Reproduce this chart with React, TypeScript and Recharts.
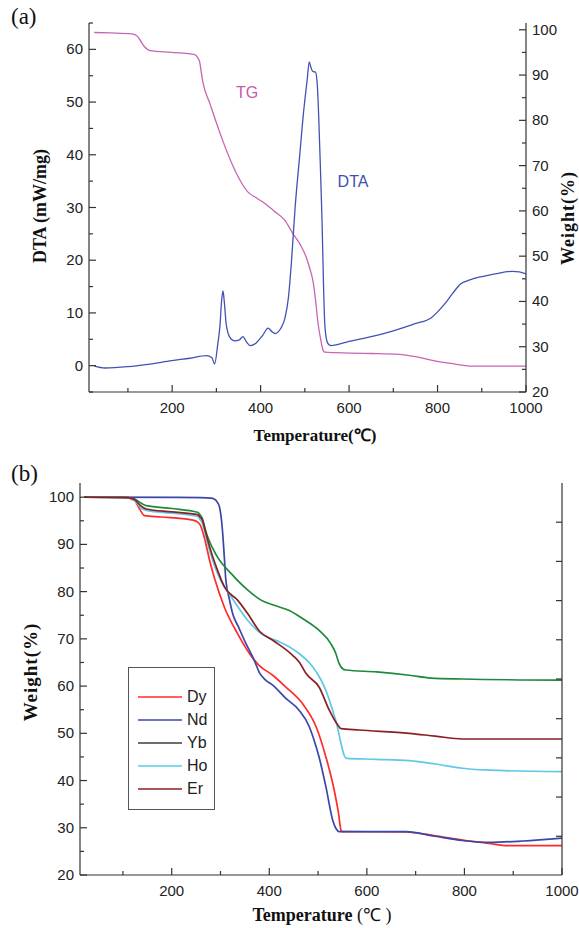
import React from 'react';
import { LineChart, Line, XAxis, YAxis, Legend } from 'recharts';

// ---- panel (a): DTA / TG ----
const dtaTemp = [24, 48, 100, 150, 199, 240, 278, 290, 296, 303, 308, 312, 315, 318, 322, 327, 334, 341, 352, 360, 368, 377, 390, 405, 417, 425, 433, 445, 455, 463, 470, 478, 488, 497, 505, 510, 514, 518, 524, 528, 531, 535, 539, 542, 545, 549, 553, 559, 600, 650, 700, 736, 751, 786, 800, 819, 835, 852, 875, 901, 930, 969, 985, 1000];
const dtaValue = [-0.1, -0.45, -0.2, 0.3, 0.95, 1.4, 1.9, 1.5, 0.3, 4, 7.5, 12.5, 14.2, 12, 8, 6, 5, 4.7, 4.9, 5.5, 4.5, 3.8, 4.3, 5.8, 7.1, 6.5, 6.1, 7, 9, 13, 20, 30, 39.5, 48, 54, 57.6, 56.5, 55.8, 55.7, 53.5, 48, 38, 27, 16, 8, 5, 4.1, 3.8, 4.6, 5.5, 6.6, 7.6, 8, 9.1, 10.2, 12, 13.8, 15.5, 16.3, 16.9, 17.4, 17.9, 17.8, 17.4];

const tgTemp = [24, 60, 108, 120, 127, 138, 150, 199, 251, 258, 262, 266, 270, 285, 311, 338, 355, 371, 390, 409, 430, 454, 473, 490, 503, 512, 518, 524, 529, 536, 541, 545, 600, 650, 713, 750, 788, 830, 879, 1000];
const tgWeight = [99.4, 99.3, 99.1, 98.7, 97.8, 96.2, 95.4, 95, 94.5, 93.8, 93, 90.5, 88.2, 83.8, 76.4, 69.8, 66.5, 64.2, 62.9, 61.7, 60, 58, 55, 52.5, 49.8, 47, 44.7, 40.5, 35.8, 31.5, 29.3, 28.8, 28.6, 28.5, 28.3, 27.8, 27, 26.3, 25.7, 25.7];

const aTempTicks = [100, 200, 300, 400, 500, 600, 700, 800, 900, 1000];
const aTopTicks = [50, 100, 150, 200, 250, 300, 350, 400, 450, 500, 550, 600, 650, 700, 750, 800, 850, 900, 950, 1000];
const dtaTicks = [-5, 0, 5, 10, 15, 20, 25, 30, 35, 40, 45, 50, 55, 60, 65];
const dtaLabels = [0, 10, 20, 30, 40, 50, 60];
const wATicks = [20, 25, 30, 35, 40, 45, 50, 55, 60, 65, 70, 75, 80, 85, 90, 95, 100];
const wALabels = [20, 30, 40, 50, 60, 70, 80, 90, 100];
const tempLabels = [200, 400, 600, 800, 1000];

// ---- panel (b): weight loss of the five complexes ----
const dyTemp = [21, 100, 124, 134, 144, 178, 240, 252, 259, 264, 270, 278, 287, 308, 335, 362, 379, 407, 434, 468, 496, 516, 533, 542, 547, 550, 680, 740, 796, 850, 888, 1000];
const dyWeight = [100, 100, 99.3, 97.5, 96.1, 95.8, 95.2, 94.8, 94, 92.5, 90.1, 86.5, 83.1, 76.7, 71.1, 66.5, 64.4, 62.3, 59.8, 56.3, 51.4, 45, 38, 33, 29.5, 29.2, 29.1, 28.3, 27.4, 26.7, 26.2, 26.2];

const ndTemp = [21, 200, 260, 280, 287, 293, 298, 304, 308, 311, 318, 325, 337, 349, 369, 380, 392, 407, 434, 461, 482, 492, 502, 516, 530, 537, 543, 680, 740, 796, 850, 920, 1000];
const ndWeight = [100, 99.95, 99.9, 99.8, 99.6, 99, 97.9, 93, 87, 82.4, 78.5, 75.3, 72.5, 69.7, 65.5, 62.8, 61.3, 60.2, 57.4, 54.9, 51.4, 48.5, 45, 38.7, 31.6, 29.8, 29.2, 29.2, 28.2, 27.3, 26.9, 27.2, 27.8];

const ybTemp = [21, 110, 124, 136, 148, 200, 253, 258, 263, 268, 274, 294, 322, 356, 383, 410, 441, 468, 502, 526, 536, 543, 551, 557, 620, 687, 731, 796, 1000];
const ybWeight = [100, 99.9, 99.6, 98.8, 98.2, 97.6, 96.8, 96.3, 95.4, 93.5, 91.5, 87.3, 83.8, 80.3, 78.2, 77.1, 76, 74.3, 71.8, 69, 67, 64.8, 63.6, 63.4, 63, 62.3, 61.7, 61.5, 61.25];

const hoTemp = [21, 110, 124, 136, 148, 200, 253, 258, 263, 268, 274, 294, 322, 356, 383, 410, 420, 461, 489, 505, 516, 536, 558, 620, 687, 740, 796, 850, 1000];
const hoWeight = [100, 99.9, 99.4, 97.8, 97.2, 96.6, 95.9, 95.3, 94.4, 92.5, 90.1, 83.8, 78.9, 73.9, 71.1, 69.8, 69.4, 66.9, 64.1, 61.5, 59.1, 52.8, 44.7, 44.5, 44.2, 43.5, 42.6, 42.2, 41.9];

const erTemp = [21, 110, 124, 136, 148, 200, 253, 258, 263, 268, 274, 294, 308, 335, 356, 380, 410, 448, 462, 475, 502, 523, 540, 547, 584, 687, 740, 796, 1000];
const erWeight = [100, 99.9, 99.5, 98.2, 97.5, 96.9, 96.3, 95.8, 95.1, 93.2, 90.8, 84.5, 81, 78.2, 75.3, 71.6, 69.5, 66.5, 65, 62.7, 59.8, 54.9, 51.8, 51, 50.7, 50, 49.4, 48.8, 48.8];

const bWeightTicks = [20, 25, 30, 35, 40, 45, 50, 55, 60, 65, 70, 75, 80, 85, 90, 95, 100];
const bWeightLabels = [20, 30, 40, 50, 60, 70, 80, 90, 100];
const bRightTicks = [28.2, 36.5, 44.8, 53.1, 61.5, 69.8, 78.1, 86.4, 94.7];

const seriesNames = ['Dy', 'Nd', 'Yb', 'Ho', 'Er'];
const seriesColors = ['#ff2b2b', '#3a47a8', '#1f8a3c', '#5ec8e6', '#8c1f22'];
const legendColors = ['#ff2b2b', '#3a47a8', '#3c3c3c', '#5ec8e6', '#8c1f22'];

const toPts = (ts: number[], vs: number[]) => ts.map((t, i) => ({ t, v: vs[i] }));

const AXIS = '#333';
const TICK_FONT = '"Liberation Sans", Arial, sans-serif';
const SERIF = '"Liberation Serif", "Times New Roman", serif';

function AxisTick(props: any) {
  const { x, y, payload, side, labels, big = 7, small = 4, allMajor } = props;
  const v = payload.value;
  const isMajor = allMajor || (labels && labels.includes(v));
  const len = isMajor ? big : small;
  const showLabel = labels && labels.includes(v);
  let line;
  let text = null;
  if (side === 'left') {
    line = <line x1={x} x2={x + len} y1={y} y2={y} stroke={AXIS} strokeWidth={1.2} />;
    if (showLabel) text = <text x={x - 6} y={y + 5} textAnchor="end" fontSize={15} fontFamily={TICK_FONT} fill="#222">{v}</text>;
  } else if (side === 'right') {
    line = <line x1={x} x2={x - len} y1={y} y2={y} stroke={AXIS} strokeWidth={1.2} />;
    if (showLabel) text = <text x={x + 6} y={y + 5} textAnchor="start" fontSize={15} fontFamily={TICK_FONT} fill="#222">{v}</text>;
  } else if (side === 'top') {
    line = <line x1={x} x2={x} y1={y} y2={y + len} stroke={AXIS} strokeWidth={1.2} />;
  } else {
    line = <line x1={x} x2={x} y1={y} y2={y - len} stroke={AXIS} strokeWidth={1.2} />;
    if (showLabel) text = <text x={x} y={y + 21} textAnchor="middle" fontSize={15} fontFamily={TICK_FONT} fill="#222">{v}</text>;
  }
  return (
    <g>
      {line}
      {text}
    </g>
  );
}

function LegendBox() {
  return (
    <div style={{ border: '1px solid #555', width: 87, height: 143, boxSizing: 'border-box', background: '#fff', paddingTop: 17 }}>
      {seriesNames.map((n, i) => (
        <div key={n} style={{ display: 'flex', alignItems: 'center', height: 23 }}>
          <svg width={58} height={10}>
            <line x1={9} x2={53} y1={5} y2={5} stroke={legendColors[i]} strokeWidth={1.6} />
          </svg>
          <span style={{ fontFamily: TICK_FONT, fontSize: 16, color: '#222', lineHeight: '16px' }}>{n}</span>
        </div>
      ))}
    </div>
  );
}

const abs = (left: number, top: number, extra: React.CSSProperties = {}): React.CSSProperties => ({
  position: 'absolute',
  left,
  top,
  whiteSpace: 'nowrap',
  ...extra,
});

export default function App() {
  const dta = toPts(dtaTemp, dtaValue);
  const tg = toPts(tgTemp, tgWeight);
  const bSeries = [
    toPts(dyTemp, dyWeight),
    toPts(ndTemp, ndWeight),
    toPts(ybTemp, ybWeight),
    toPts(hoTemp, hoWeight),
    toPts(erTemp, erWeight),
  ];

  const axisLine = { stroke: AXIS, strokeWidth: 1.2 };

  return (
    <div style={{ position: 'absolute', left: 0, top: 0, width: 579, height: 928, background: '#fff' }}>
      {/* panel (a) */}
      <div style={abs(0, 0)}>
        <LineChart width={579} height={450} margin={{ top: 23, right: 13, bottom: 28, left: 29 }}>
          <XAxis xAxisId="b" type="number" dataKey="t" domain={[12, 1000]} allowDataOverflow ticks={aTempTicks} interval={0}
            tickSize={0} tickMargin={0} tickLine={false} axisLine={axisLine} height={30}
            tick={(p: any) => <AxisTick {...p} side="bottom" labels={tempLabels} />} />
          <XAxis xAxisId="t" orientation="top" type="number" dataKey="t" domain={[12, 1000]} allowDataOverflow ticks={aTopTicks} interval={0}
            tickSize={0} tickMargin={0} tickLine={false} axisLine={axisLine} height={0}
            tick={(p: any) => <AxisTick {...p} side="top" labels={aTempTicks} />} />
          <YAxis yAxisId="l" type="number" domain={[-5, 65]} allowDataOverflow ticks={dtaTicks} interval={0}
            tickSize={0} tickMargin={0} tickLine={false} axisLine={axisLine} width={60}
            tick={(p: any) => <AxisTick {...p} side="left" labels={dtaLabels} />} />
          <YAxis yAxisId="r" orientation="right" type="number" domain={[20, 101.5]} allowDataOverflow ticks={wATicks} interval={0}
            tickSize={0} tickMargin={0} tickLine={false} axisLine={axisLine} width={40}
            tick={(p: any) => <AxisTick {...p} side="right" labels={wALabels} />} />
          <Line xAxisId="b" yAxisId="r" data={tg} dataKey="v" type="monotone" stroke="#c864b4" strokeWidth={1.3} dot={false} isAnimationActive={false} />
          <Line xAxisId="b" yAxisId="l" data={dta} dataKey="v" type="monotone" stroke="#4252b4" strokeWidth={1.3} dot={false} isAnimationActive={false} />
        </LineChart>
      </div>

      {/* panel (b) */}
      <div style={abs(0, 450)}>
        <LineChart width={579} height={478} margin={{ top: 33, right: 16, bottom: 23, left: 20 }}>
          <XAxis xAxisId="b" type="number" dataKey="t" domain={[12, 1000]} allowDataOverflow ticks={aTempTicks} interval={0}
            tickSize={0} tickMargin={0} tickLine={false} axisLine={axisLine} height={30}
            tick={(p: any) => <AxisTick {...p} side="bottom" labels={tempLabels} />} />
          <XAxis xAxisId="t" orientation="top" type="number" dataKey="t" domain={[12, 1000]} allowDataOverflow ticks={aTempTicks} interval={0}
            tickSize={0} tickMargin={0} tickLine={false} axisLine={axisLine} height={0}
            tick={(p: any) => <AxisTick {...p} side="top" labels={tempLabels} />} />
          <YAxis yAxisId="l" type="number" domain={[20, 103]} allowDataOverflow ticks={bWeightTicks} interval={0}
            tickSize={0} tickMargin={0} tickLine={false} axisLine={axisLine} width={60}
            tick={(p: any) => <AxisTick {...p} side="left" labels={bWeightLabels} />} />
          <YAxis yAxisId="r" orientation="right" type="number" domain={[20, 103]} allowDataOverflow ticks={bRightTicks} interval={0}
            tickSize={0} tickMargin={0} tickLine={false} axisLine={axisLine} width={1}
            tick={(p: any) => <AxisTick {...p} side="right" allMajor big={6} />} />
          {bSeries.map((pts, i) => (
            <Line key={seriesNames[i]} name={seriesNames[i]} xAxisId="b" yAxisId="l" data={pts} dataKey="v" type="monotone"
              stroke={seriesColors[i]} strokeWidth={1.7} dot={false} isAnimationActive={false} />
          ))}
          <Legend layout="vertical" align="center" verticalAlign="middle" content={() => <LegendBox />}
            wrapperStyle={{ position: 'absolute', left: 128, top: 217, width: 87, height: 143 }} />
        </LineChart>
      </div>

      {/* titles and axis names */}
      <div style={abs(11, 4, { fontFamily: SERIF, fontSize: 23, color: '#111' })}>(a)</div>
      <div style={abs(11, 461, { fontFamily: SERIF, fontSize: 23, color: '#111' })}>(b)</div>

      <div style={abs(40, 206, { transform: 'translate(-50%, -50%) rotate(-90deg)', fontFamily: SERIF, fontWeight: 'bold', fontSize: 18, color: '#111' })}>
        DTA (mW/mg)
      </div>
      <div style={abs(568, 218, { transform: 'translate(-50%, -50%) rotate(-90deg)', fontFamily: SERIF, fontWeight: 'bold', fontSize: 18, letterSpacing: 1, color: '#111' })}>
        Weight(%)
      </div>
      <div style={abs(315, 434, { transform: 'translate(-50%, -50%)', fontFamily: SERIF, fontWeight: 'bold', fontSize: 17, color: '#111' })}>
        Temperature(℃)
      </div>
      <div style={abs(247, 93, { transform: 'translate(-50%, -50%)', fontFamily: TICK_FONT, fontSize: 16, color: '#c05aaa' })}>TG</div>
      <div style={abs(353, 182, { transform: 'translate(-50%, -50%)', fontFamily: TICK_FONT, fontSize: 16, color: '#3e50b0' })}>DTA</div>

      <div style={abs(31, 672, { transform: 'translate(-50%, -50%) rotate(-90deg)', fontFamily: SERIF, fontWeight: 'bold', fontSize: 19, letterSpacing: 1, color: '#111' })}>
        Weight(%)
      </div>
      <div style={abs(322, 915, { transform: 'translate(-50%, -50%)', fontFamily: SERIF, fontSize: 18, lineHeight: '20px', color: '#111' })}>
        <span style={{ fontWeight: 'bold' }}>Temperature</span> (℃ )
      </div>
    </div>
  );
}
